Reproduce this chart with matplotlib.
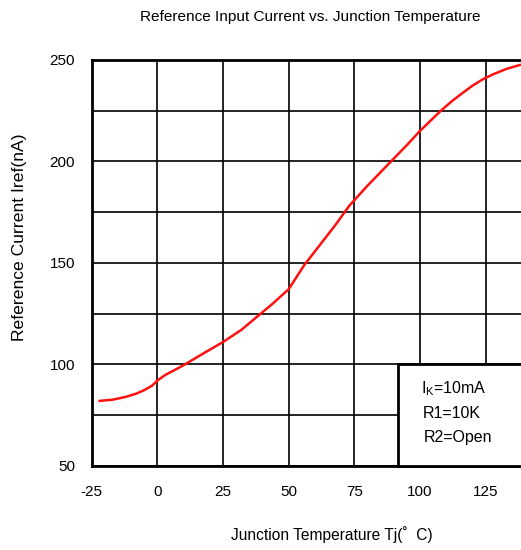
import matplotlib.pyplot as plt
from matplotlib.patches import Rectangle

plt.rcParams['font.family'] = ['Liberation Sans', 'DejaVu Sans']
plt.rcParams['axes.unicode_minus'] = False

# Curve
temp = [-22, -17, -12, -8, -5, -2, 0, 3, 6, 10, 17, 25, 32, 38, 44, 50,
        53, 56, 62, 68, 73, 80, 89, 95, 100, 104, 108, 112, 116, 120, 124, 128, 133, 138]
iref = [82, 82.6, 84, 85.6, 87.3, 89.5, 92, 94.8, 96.8, 99.6, 105, 111, 117, 123.5, 130, 137,
        143, 149, 159, 169, 178, 188, 200, 208, 215, 220, 225, 229.5, 233.5, 237.3, 240.5, 243, 245.6, 247.5]

xticks = [-25, 0, 25, 50, 75, 100, 125]
yticks = [50, 100, 150, 200, 250]
notes = ['I$_{\\mathregular{K}}$=10mA', 'R1=10K', 'R2=Open']

fig = plt.figure(figsize=(5.21, 5.5), dpi=100)
ax = fig.add_axes([0.176, 0.153, 0.824, 0.738])

ax.plot(temp, iref, color='#ff1010', linewidth=1.8, zorder=3)

ax.set_xlim(-25, 138.5)
ax.set_ylim(50, 250)
ax.set_xticks(xticks)
ax.set_yticks(yticks)
ax.set_xticks(range(-25, 150, 25), minor=True)
ax.set_yticks(range(50, 251, 25), minor=True)
ax.grid(True, which='both', color='black', linewidth=1.2)
ax.tick_params(which='both', length=0, labelsize=11, pad=14)
ax.tick_params(axis='y', pad=12)
for s in ax.spines.values():
    s.set_linewidth(2)
ax.spines['right'].set_visible(False)

# condition box in the lower right corner
box = Rectangle((91.6, 50), 60, 50, facecolor='white', edgecolor='black',
                linewidth=2, zorder=4, clip_on=False)
ax.add_patch(box)
for i, t in enumerate(notes):
    ax.text(100.3 + i * 0.6, 87.8 - i * 12, t, fontsize=11.5, zorder=5, va='center')

fig.text(0.595, 0.97, 'Reference Input Current vs. Junction Temperature',
         ha='center', va='center', fontsize=11.1)
fig.text(0.637, 0.028, 'Junction Temperature Tj(˚  C)', ha='center', va='center', fontsize=11.2)
fig.text(0.038, 0.569, 'Reference Current Iref(nA)', rotation=90,
         ha='center', va='center', fontsize=12.6)

fig.savefig('out.png', dpi=100)
